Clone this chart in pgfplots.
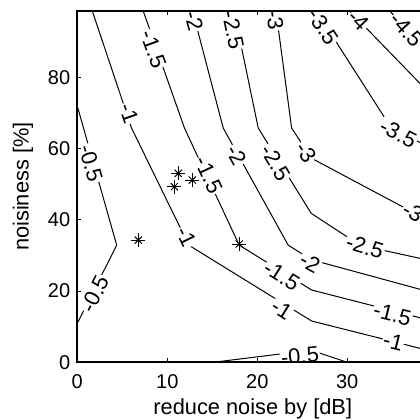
\documentclass[border=0pt]{standalone}
\usepackage{fontspec}
\setmainfont{Liberation Sans}
\usepackage{pgfplots}
\pgfplotsset{compat=1.18}
\tikzset{clabel/.style={fill=white, inner sep=0.5pt, font=\fontsize{11}{13}\selectfont}}
\begin{document}
\begin{tikzpicture}
\begin{axis}[
  scale only axis, width=175.5pt, height=175.65pt,
  xmin=0, xmax=39, ymin=0, ymax=98.6,
  xtick={0,10,20,30}, ytick={0,20,40,60,80},
  tick align=inside, major tick length=2pt,
  /pgf/number format/assume math mode=true,
  tick label style={font=\fontsize{10}{12}\selectfont},
  label style={font=\fontsize{10.9}{13}\selectfont},
  xticklabel style={anchor=base, yshift=-13pt},
  xlabel={reduce noise by [dB]},
  ylabel={noisiness [\%]},
  xlabel style={at={(axis description cs:0.5,-0.1486)}, anchor=base},
  ylabel style={at={(axis description cs:-0.1385,0.5)}, anchor=base},
  axis line style={line width=1pt},
  every tick/.style={black, line width=0.5pt},
  axis on top,
]
% contour lines
\addplot[black, line width=0.5pt] coordinates {(0,71.94) (4.38,32.87) (0,10.95)};
\addplot[black, line width=0.5pt] coordinates {(15.1,0) (25.97,3.4) (30.0,0)};
\addplot[black, line width=0.5pt] coordinates {(1.67,98.6) (6.03,65.74) (12.39,32.87) (26.04,11.59) (39,3.34)};
\addplot[black, line width=0.5pt] coordinates {(7.33,98.6) (11.91,65.74) (18.0,32.87) (26.04,20.29) (39,11.9)};
\addplot[black, line width=0.5pt] coordinates {(12.81,98.6) (16.22,65.74) (23.44,32.87) (26.04,28.77) (39,19.86)};
\addplot[black, line width=0.5pt] coordinates {(17.41,98.6) (20.11,65.74) (26.0,41.8) (31.41,32.87) (39,28.67)};
\addplot[black, line width=0.5pt] coordinates {(22.08,98.6) (23.82,65.74) (26.04,57.26) (39,39.83)};
\addplot[black, line width=0.5pt] coordinates {(26.57,98.6) (34.9,65.74) (39,60.55)};
\addplot[black, line width=0.5pt] coordinates {(30.28,98.6) (39,75.9)};
\addplot[black, line width=0.5pt] coordinates {(34.74,98.6) (39,86.8)};
% contour labels
\node[clabel, rotate=-74] at (axis cs:1.5,55.86) {-0.5};
\node[clabel, rotate=63] at (axis cs:1.97,19.17) {-0.5};
\node[clabel, rotate=5] at (axis cs:24.74,1.8) {-0.5};
\node[clabel, rotate=-71] at (axis cs:5.74,69.97) {-1};
\node[clabel, rotate=-64] at (axis cs:12.16,35.26) {-1};
\node[clabel, rotate=-32] at (axis cs:22.71,14.96) {-1};
\node[clabel, rotate=-14] at (axis cs:35.11,5.78) {-1};
\node[clabel, rotate=-70] at (axis cs:8.44,87.9) {-1.5};
\node[clabel, rotate=-65] at (axis cs:14.6,52.6) {-1.5};
\node[clabel, rotate=-32] at (axis cs:22.71,24.28) {-1.5};
\node[clabel, rotate=-14] at (axis cs:35.02,13.5) {-1.5};
\node[clabel, rotate=-75] at (axis cs:12.97,95.9) {-2};
\node[clabel, rotate=-61] at (axis cs:17.71,58.2) {-2};
\node[clabel, rotate=-28] at (axis cs:25.86,28.0) {-2};
\node[clabel, rotate=-78] at (axis cs:17.33,93.3) {-2.5};
\node[clabel, rotate=-59] at (axis cs:22.06,56.1) {-2.5};
\node[clabel, rotate=-17] at (axis cs:31.97,32.45) {-2.5};
\node[clabel, rotate=-82] at (axis cs:21.97,96.1) {-3};
\node[clabel, rotate=-56] at (axis cs:25.41,59.03) {-3};
\node[clabel, rotate=-28] at (axis cs:37.3,42.2) {-3};
\node[clabel, rotate=-57] at (axis cs:27.33,94.2) {-3.5};
\node[clabel, rotate=-27] at (axis cs:35.67,64.28) {-3.5};
\node[clabel, rotate=-46] at (axis cs:31.32,96.1) {-4};
\node[clabel, rotate=-48] at (axis cs:36.63,93.3) {-4.5};
% data points (asterisks)
\addplot[only marks, mark=+, mark size=3.5pt, mark options={line width=0.5pt, black}] coordinates {(6.78,34.3) (10.78,49.3) (11.22,53.05) (12.78,51.17) (18.0,33.2)};
\addplot[only marks, mark=x, mark size=2.5pt, mark options={line width=0.5pt, black}] coordinates {(6.78,34.3) (10.78,49.3) (11.22,53.05) (12.78,51.17) (18.0,33.2)};
\coordinate (BL) at (axis cs:-8.589,-16.2);
\coordinate (TR) at (axis cs:38.078,101.7);
\end{axis}
\pgfresetboundingbox
\path[use as bounding box] (BL) rectangle (TR);
\end{tikzpicture}
\end{document}
